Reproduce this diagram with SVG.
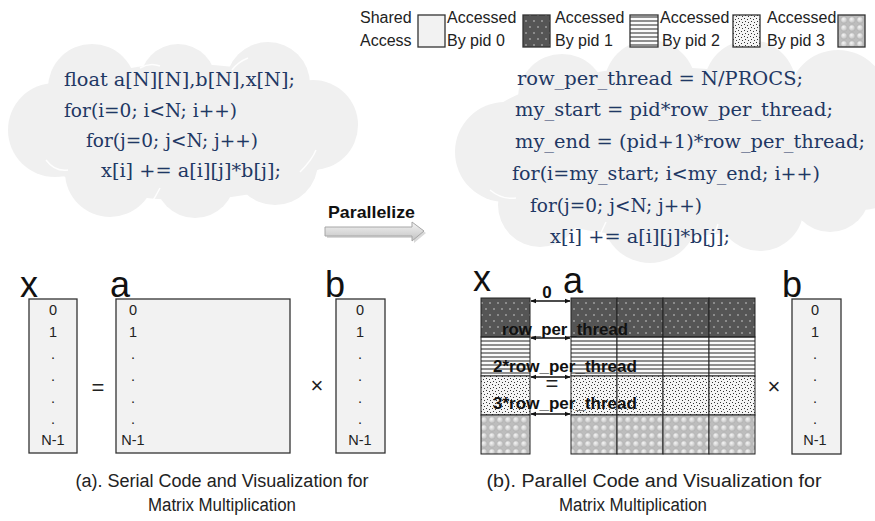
<svg xmlns="http://www.w3.org/2000/svg" width="875" height="521" viewBox="0 0 875 521">
  <style>
    .code { font-family: "DejaVu Serif", "Liberation Serif", serif; font-size: 18px; fill: #1f3864; }
    .leg { font-family: "Liberation Sans", Arial, sans-serif; font-size: 16px; fill: #222; }
    .cap { font-family: "Liberation Sans", Arial, sans-serif; font-size: 18px; fill: #222; text-anchor: middle; }
    .big { font-family: "Liberation Sans", Arial, sans-serif; font-size: 36px; fill: #111; }
    .idx { font-family: "Liberation Sans", Arial, sans-serif; font-size: 14.5px; fill: #222; text-anchor: middle; }
    .op { font-family: "Liberation Sans", Arial, sans-serif; font-size: 22px; fill: #222; text-anchor: middle; }
    .lbl { font-family: "Liberation Sans", Arial, sans-serif; font-weight: bold; font-size: 17px; fill: #111; }
    .box { stroke: #333; stroke-width: 1.3; }
    .cell { stroke: #222; stroke-width: 1; }
    .cloud { fill: #f0f0f0; }
    .seam { fill: none; stroke: #ffffff; stroke-width: 1.5; opacity: 0.9; }
    .dbl { stroke: #111; stroke-width: 1.5; fill: none; marker-start: url(#ah); marker-end: url(#ah); }
  </style>
  <defs>
    <marker id="ah" viewBox="0 0 10 10" refX="9" refY="5" markerWidth="6" markerHeight="6" orient="auto-start-reverse" markerUnits="userSpaceOnUse">
      <path d="M0,1 L10,5 L0,9 z" fill="#111"/>
    </marker>
    <!-- pid 0: dark fill with light dots -->
    <pattern id="p0" width="8" height="12" patternUnits="userSpaceOnUse">
      <rect width="8" height="12" fill="#555"/>
      <circle cx="2" cy="3" r="0.8" fill="#cfcfcf"/>
      <circle cx="6" cy="9" r="0.8" fill="#cfcfcf"/>
    </pattern>
    <!-- pid 1: horizontal stripes -->
    <pattern id="p1" width="4" height="4" patternUnits="userSpaceOnUse">
      <rect width="4" height="4" fill="#fafafa"/>
      <rect width="4" height="2" fill="#8f8f8f"/>
    </pattern>
    <!-- pid 2: confetti dots -->
    <pattern id="p2" width="6" height="6" patternUnits="userSpaceOnUse">
      <rect width="6" height="6" fill="#f4f4f4"/>
      <rect x="0" y="0" width="1" height="1" fill="#333"/>
      <rect x="3" y="1" width="1" height="1" fill="#333"/>
      <rect x="1" y="3" width="1" height="1" fill="#333"/>
      <rect x="4" y="4" width="1" height="1" fill="#333"/>
    </pattern>
    <!-- pid 3: spheres -->
    <radialGradient id="sph" cx="0.4" cy="0.35" r="0.6">
      <stop offset="0" stop-color="#f4f4f4"/>
      <stop offset="1" stop-color="#c4c4c4"/>
    </radialGradient>
    <pattern id="p3" width="8" height="8" patternUnits="userSpaceOnUse">
      <rect width="8" height="8" fill="#bdbdbd"/>
      <circle cx="4" cy="4" r="3.3" fill="url(#sph)" stroke="#a9a9a9" stroke-width="0.5"/>
    </pattern>
    <linearGradient id="arrowFill" x1="0" y1="0" x2="0" y2="1">
      <stop offset="0" stop-color="#f4f4f4"/>
      <stop offset="1" stop-color="#c2c2c2"/>
    </linearGradient>
  </defs>

  <rect width="875" height="521" fill="#ffffff"/>

  <!-- serial code cloud -->
  <g id="serial-code">
    <g class="cloud">
      <ellipse cx="185" cy="132" rx="160" ry="68"/>
      <circle cx="92" cy="88" r="44"/>
      <circle cx="178" cy="82" r="38"/>
      <circle cx="268" cy="84" r="42"/>
      <circle cx="313" cy="125" r="45"/>
      <circle cx="55" cy="130" r="47"/>
      <circle cx="110" cy="172" r="45"/>
      <circle cx="195" cy="178" r="40"/>
      <circle cx="275" cy="162" r="43"/>
    </g>
    <path class="seam" d="M140,68 Q150,62 160,66"/>
    <path class="seam" d="M232,70 Q238,62 248,58"/>
    <path class="seam" d="M46,160 Q55,172 68,170"/>
    <path class="seam" d="M150,205 Q156,196 160,188"/>
    <path class="seam" d="M300,172 Q312,160 316,150"/>
    <text class="code" x="64" y="86" textLength="231" lengthAdjust="spacingAndGlyphs">float a[N][N],b[N],x[N];</text>
    <text class="code" x="64" y="117" textLength="173" lengthAdjust="spacingAndGlyphs">for(i=0; i&lt;N; i++)</text>
    <text class="code" x="86" y="147" textLength="172" lengthAdjust="spacingAndGlyphs">for(j=0; j&lt;N; j++)</text>
    <text class="code" x="101" y="177" textLength="180" lengthAdjust="spacingAndGlyphs">x[i] += a[i][j]*b[j];</text>
  </g>

  <!-- parallel code cloud -->
  <g id="parallel-code">
    <g class="cloud">
      <ellipse cx="665" cy="152" rx="200" ry="85"/>
      <circle cx="562" cy="98" r="44"/>
      <circle cx="650" cy="86" r="46"/>
      <circle cx="750" cy="86" r="46"/>
      <circle cx="838" cy="100" r="50"/>
      <circle cx="862" cy="160" r="50"/>
      <circle cx="505" cy="152" r="50"/>
      <circle cx="540" cy="205" r="42"/>
      <circle cx="650" cy="215" r="48"/>
      <circle cx="760" cy="207" r="44"/>
      <circle cx="830" cy="192" r="40"/>
    </g>
    <path class="seam" d="M598,72 Q604,62 612,58"/>
    <path class="seam" d="M700,64 Q704,56 706,50"/>
    <path class="seam" d="M490,190 Q502,200 516,198"/>
    <path class="seam" d="M598,240 Q602,230 606,222"/>
    <path class="seam" d="M710,240 Q716,232 718,224"/>
    <text class="code" x="517" y="85" textLength="286" lengthAdjust="spacingAndGlyphs">row_per_thread = N/PROCS;</text>
    <text class="code" x="515" y="116" textLength="318" lengthAdjust="spacingAndGlyphs">my_start = pid*row_per_thread;</text>
    <text class="code" x="515" y="148" textLength="350" lengthAdjust="spacingAndGlyphs">my_end = (pid+1)*row_per_thread;</text>
    <text class="code" x="512" y="180" textLength="308" lengthAdjust="spacingAndGlyphs">for(i=my_start; i&lt;my_end; i++)</text>
    <text class="code" x="530" y="212" textLength="172" lengthAdjust="spacingAndGlyphs">for(j=0; j&lt;N; j++)</text>
    <text class="code" x="550" y="243" textLength="180" lengthAdjust="spacingAndGlyphs">x[i] += a[i][j]*b[j];</text>
  </g>

  <!-- legend -->
  <g id="legend">
    <text class="leg" x="360" y="23">Shared</text>
    <text class="leg" x="360" y="46">Access</text>
    <rect class="box" x="418" y="15" width="27" height="32" fill="#f2f2f2"/>
    <text class="leg" x="447" y="23">Accessed</text>
    <text class="leg" x="447" y="46">By pid 0</text>
    <rect class="box" x="523" y="15" width="27" height="32" fill="url(#p0)"/>
    <text class="leg" x="555" y="23">Accessed</text>
    <text class="leg" x="555" y="46">By pid 1</text>
    <rect class="box" x="630" y="15" width="28" height="32" fill="url(#p1)"/>
    <text class="leg" x="660" y="23">Accessed</text>
    <text class="leg" x="662" y="46">By pid 2</text>
    <rect class="box" x="733" y="15" width="27" height="32" fill="url(#p2)"/>
    <text class="leg" x="767" y="23">Accessed</text>
    <text class="leg" x="767" y="46">By pid 3</text>
    <rect class="box" x="838" y="15" width="27" height="32" fill="url(#p3)"/>
  </g>

  <!-- serial visualization -->
  <g id="serial-x">
    <text class="big" x="20" y="297">x</text>
    <rect class="box" x="29" y="299" width="48" height="154" fill="#f2f2f2"/>
    <text class="idx" x="53" y="315">0</text>
    <text class="idx" x="53" y="337">1</text>
    <text class="idx" x="53" y="359">.</text>
    <text class="idx" x="53" y="381">.</text>
    <text class="idx" x="53" y="403">.</text>
    <text class="idx" x="53" y="424">.</text>
    <text class="idx" x="53" y="445">N-1</text>
  </g>
  <text class="op" x="98" y="395">=</text>
  <g id="serial-a">
    <text class="big" x="110" y="297">a</text>
    <rect class="box" x="116" y="299" width="174" height="154" fill="#f2f2f2"/>
    <text class="idx" x="133" y="315">0</text>
    <text class="idx" x="133" y="337">1</text>
    <text class="idx" x="133" y="359">.</text>
    <text class="idx" x="133" y="381">.</text>
    <text class="idx" x="133" y="403">.</text>
    <text class="idx" x="133" y="424">.</text>
    <text class="idx" x="133" y="445">N-1</text>
  </g>
  <text class="op" x="317" y="393">×</text>
  <g id="serial-b">
    <text class="big" x="325" y="297">b</text>
    <rect class="box" x="336" y="299" width="49" height="154" fill="#f2f2f2"/>
    <text class="idx" x="360" y="315">0</text>
    <text class="idx" x="360" y="337">1</text>
    <text class="idx" x="360" y="359">.</text>
    <text class="idx" x="360" y="381">.</text>
    <text class="idx" x="360" y="403">.</text>
    <text class="idx" x="360" y="424">.</text>
    <text class="idx" x="360" y="445">N-1</text>
  </g>

  <!-- parallel visualization -->
  <g id="parallel-x">
    <text class="big" x="473" y="291">x</text>
    <rect class="cell" x="481" y="298" width="49" height="39" fill="url(#p0)"/>
    <rect class="cell" x="481" y="337" width="49" height="39" fill="url(#p1)"/>
    <rect class="cell" x="481" y="376" width="49" height="39" fill="url(#p2)"/>
    <rect class="cell" x="481" y="415" width="49" height="39" fill="url(#p3)"/>
  </g>
  <g id="parallel-a">
    <text class="big" x="563" y="293">a</text>
    <g fill="url(#p0)">
      <rect class="cell" x="571" y="298" width="46" height="39"/>
      <rect class="cell" x="617" y="298" width="46" height="39"/>
      <rect class="cell" x="663" y="298" width="46" height="39"/>
      <rect class="cell" x="709" y="298" width="46" height="39"/>
    </g>
    <g fill="url(#p1)">
      <rect class="cell" x="571" y="337" width="46" height="39"/>
      <rect class="cell" x="617" y="337" width="46" height="39"/>
      <rect class="cell" x="663" y="337" width="46" height="39"/>
      <rect class="cell" x="709" y="337" width="46" height="39"/>
    </g>
    <g fill="url(#p2)">
      <rect class="cell" x="571" y="376" width="46" height="39"/>
      <rect class="cell" x="617" y="376" width="46" height="39"/>
      <rect class="cell" x="663" y="376" width="46" height="39"/>
      <rect class="cell" x="709" y="376" width="46" height="39"/>
    </g>
    <g fill="url(#p3)">
      <rect class="cell" x="571" y="415" width="46" height="39"/>
      <rect class="cell" x="617" y="415" width="46" height="39"/>
      <rect class="cell" x="663" y="415" width="46" height="39"/>
      <rect class="cell" x="709" y="415" width="46" height="39"/>
    </g>
  </g>
  <text class="op" x="552" y="391" font-size="21">=</text>
  <text class="op" x="774" y="394">×</text>
  <g id="parallel-b">
    <text class="big" x="782" y="297">b</text>
    <rect class="box" x="792" y="299" width="49" height="155" fill="#f2f2f2"/>
    <text class="idx" x="815" y="315">0</text>
    <text class="idx" x="815" y="337">1</text>
    <text class="idx" x="815" y="359">.</text>
    <text class="idx" x="815" y="381">.</text>
    <text class="idx" x="815" y="403">.</text>
    <text class="idx" x="815" y="424">.</text>
    <text class="idx" x="815" y="445">N-1</text>
  </g>

  <!-- row boundary markers and the parallelize arrow -->
  <g id="connectors">
    <line class="dbl" x1="531" y1="301" x2="570" y2="301"/>
    <line class="dbl" x1="531" y1="338" x2="570" y2="338"/>
    <line class="dbl" x1="531" y1="377" x2="570" y2="377"/>
    <line class="dbl" x1="531" y1="414" x2="570" y2="414"/>
    <g id="parallelize-arrow">
      <polygon points="327,229 414,229 414,224 426,233 414,243 414,238 327,238" fill="#000" opacity="0.15"/>
      <polygon points="325,227 412,227 412,222 424,231 412,241 412,236 325,236" fill="url(#arrowFill)" stroke="#a6a6a6" stroke-width="1"/>
    </g>
  </g>
  <text class="lbl" x="547" y="298" text-anchor="middle" font-size="13">0</text>
  <text class="lbl" x="502" y="335" textLength="126" lengthAdjust="spacingAndGlyphs">row_per_thread</text>
  <text class="lbl" x="493" y="372" textLength="144" lengthAdjust="spacingAndGlyphs">2*row_per_thread</text>
  <text class="lbl" x="493" y="409" textLength="144" lengthAdjust="spacingAndGlyphs">3*row_per_thread</text>
  <text class="lbl" x="328" y="218" textLength="87" lengthAdjust="spacingAndGlyphs">Parallelize</text>

  <!-- captions -->
  <g id="captions">
    <text class="cap" x="222" y="487">(a). Serial Code and Visualization for</text>
    <text class="cap" x="222" y="511" textLength="148" lengthAdjust="spacingAndGlyphs">Matrix Multiplication</text>
    <text class="cap" x="654" y="487" textLength="335" lengthAdjust="spacingAndGlyphs">(b). Parallel Code and Visualization for</text>
    <text class="cap" x="633" y="511" textLength="148" lengthAdjust="spacingAndGlyphs">Matrix Multiplication</text>
  </g>
</svg>
